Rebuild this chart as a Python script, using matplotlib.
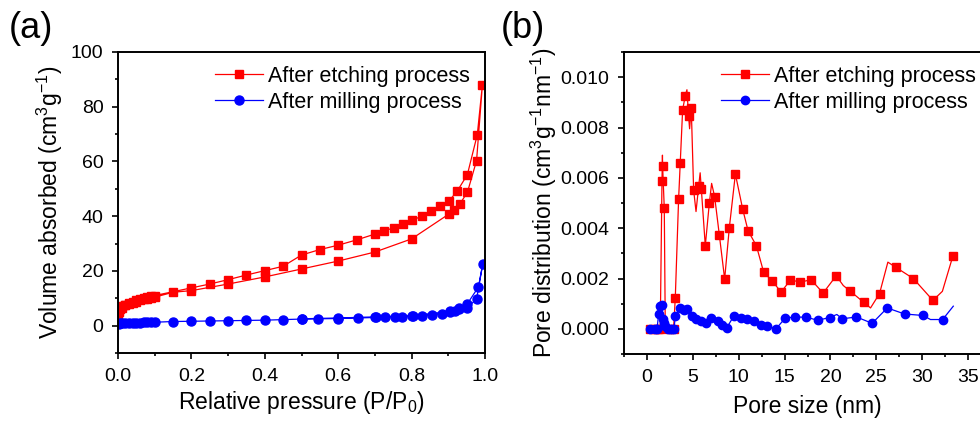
import numpy as np
import matplotlib
matplotlib.use('Agg')
import matplotlib.pyplot as plt
from matplotlib.ticker import MultipleLocator, FormatStrFormatter

plt.rcParams['font.family'] = ['Liberation Sans', 'DejaVu Sans']
plt.rcParams['mathtext.fontset'] = 'custom'
plt.rcParams['mathtext.rm'] = 'Liberation Sans'
plt.rcParams['mathtext.it'] = 'Liberation Sans:italic'

# (a) N2 isotherms, adsorption branch then desorption branch
etch_ads_p = [0.001, 0.003, 0.006, 0.01, 0.02, 0.03, 0.04, 0.05, 0.06, 0.07, 0.08, 0.09, 0.1,
              0.15, 0.2, 0.3, 0.4, 0.5, 0.6, 0.7, 0.8, 0.903, 0.915, 0.932, 0.952, 0.977, 0.993]
etch_ads_v = [3.0, 5.0, 6.0, 6.6, 7.4, 7.9, 8.4, 8.8, 9.2, 9.6, 9.9, 10.2, 10.4,
              12.2, 12.8, 15.2, 17.8, 20.7, 23.6, 26.9, 31.7, 40.9, 42.4, 44.6, 48.7, 60.3, 88.1]
etch_des_p = [0.979, 0.952, 0.925, 0.901, 0.877, 0.853, 0.827, 0.802, 0.777, 0.752, 0.725, 0.701,
              0.652, 0.6, 0.55, 0.5, 0.45, 0.4, 0.35, 0.3, 0.25, 0.2, 0.1, 0.09, 0.08, 0.07,
              0.06, 0.05, 0.04, 0.03, 0.02, 0.01]
etch_des_v = [69.8, 55.2, 49.3, 45.4, 43.6, 41.8, 40.0, 38.5, 37.1, 35.7, 34.7, 33.5,
              31.4, 29.4, 27.8, 25.8, 21.7, 20.1, 18.5, 16.8, 15.2, 13.8, 11.0, 10.7, 10.3, 10.0,
              9.6, 9.2, 8.7, 8.2, 7.7, 7.0]

mill_ads_p = [0.002, 0.005, 0.01, 0.02, 0.03, 0.04, 0.05, 0.06, 0.07, 0.08, 0.09, 0.1, 0.15, 0.2,
              0.25, 0.3, 0.35, 0.4, 0.45, 0.5, 0.545, 0.6, 0.655, 0.704, 0.727, 0.754, 0.775,
              0.803, 0.827, 0.855, 0.882, 0.905, 0.918, 0.93, 0.952, 0.977, 0.994]
mill_ads_v = [0.6, 0.8, 0.9, 1.0, 1.0, 1.05, 1.1, 1.1, 1.15, 1.2, 1.2, 1.25, 1.5, 1.6,
              1.7, 1.8, 1.9, 2.0, 2.2, 2.4, 2.5, 2.6, 2.8, 3.0, 3.1, 3.2, 3.3,
              3.4, 3.7, 3.9, 4.4, 5.0, 5.5, 6.0, 6.6, 9.7, 22.6]
mill_des_p = [0.982, 0.952, 0.93, 0.905, 0.8, 0.7, 0.6, 0.5]
mill_des_v = [14.1, 8.0, 6.3, 5.2, 3.6, 3.2, 2.8, 2.5]

# (b) pore size distribution; line-only points are left out of the marker lists
etch_size = [0.36, 0.9, 1.2, 1.45, 1.64, 1.69, 1.71, 1.89, 2.0, 2.4, 2.9, 3.09, 3.45, 3.63,
             3.89, 4.18, 4.36, 4.54, 4.65, 4.83, 5.09, 5.35, 5.64, 5.8, 5.93, 6.36, 6.8,
             7.05, 7.38, 7.89, 8.47, 8.98, 9.64, 10.44, 11.02, 11.93, 12.73, 13.64, 14.62,
             15.64, 16.73, 17.9, 19.2, 20.63, 21.4, 22.08, 23.64, 24.37, 25.35, 26.26, 27.1,
             29.03, 31.17, 32.2, 33.35]
etch_dist = [0.0, 0.0, 0.0, 0.0, 0.00587, 0.0069, 0.00646, 0.00479, 0.0, 0.0, 0.0, 0.00123,
             0.00514, 0.00659, 0.0087, 0.00927, 0.0095, 0.00844, 0.00795, 0.00878, 0.00551,
             0.00466, 0.00567, 0.0062, 0.00555, 0.0033, 0.00499, 0.00578, 0.00525, 0.00373,
             0.00198, 0.00402, 0.00615, 0.00475, 0.0039, 0.0033, 0.00224, 0.00191, 0.00146,
             0.00194, 0.00186, 0.00195, 0.00142, 0.00211, 0.00172, 0.00152, 0.00105, 0.00083,
             0.0014, 0.00265, 0.00245, 0.002, 0.00113, 0.00149, 0.0029]
etch_marks = [0, 1, 2, 3, 4, 6, 7, 9, 10, 11, 12, 13, 14, 15, 17, 19, 20, 22, 24, 25, 26, 28,
              29, 30, 31, 32, 33, 34, 35, 36, 37, 38, 39, 40, 41, 42, 43, 45, 46, 48, 50, 51,
              52, 54]

mill_size = [0.36, 0.9, 1.1, 1.27, 1.45, 1.62, 1.71, 1.82, 2.0, 2.25, 2.5, 2.7, 2.95, 3.09,
             3.63, 4.0, 4.36, 4.9, 5.4, 5.9, 6.4, 6.96, 7.7, 8.2, 8.7, 9.45, 10.2, 10.9,
             11.65, 12.4, 13.1, 14.08, 15.09, 16.18, 17.39, 18.62, 19.9, 20.7, 21.28, 22.84,
             24.55, 26.19, 28.08, 30.12, 30.9, 32.23, 33.39]
mill_dist = [0.0, 0.0, 0.0, 0.00057, 0.0009, 0.00095, 0.0004, 0.00025, 0.0001, 0.0, 0.0, 0.0,
             0.0, 0.0005, 0.00083, 0.00076, 0.0008, 0.0005, 0.0004, 0.0003, 0.00024, 0.00045,
             0.0003, 0.00017, 0.00004, 0.0005, 0.00045, 0.0004, 0.0003, 0.00017, 0.0001,
             0.00001, 0.00043, 0.00047, 0.00046, 0.00034, 0.00045, 0.00057, 0.0004, 0.00047,
             0.00022, 0.00083, 0.00059, 0.00053, 0.00037, 0.00037, 0.0009]
mill_marks = [i for i in range(len(mill_size)) if i not in (37, 44, 46)]

RED = '#ff0000'
BLUE = '#0000ff'
LABELS = ['After etching process', 'After milling process']

fig = plt.figure(figsize=(9.8, 4.21), dpi=100)
ax1 = fig.add_axes([118/980, 1 - 353/421, 367/980, 301/421])
ax2 = fig.add_axes([624/980, 1 - 354/421, 367/980, 302/421])

ax1.plot(etch_ads_p + etch_des_p, etch_ads_v + etch_des_v, '-s', color=RED,
         lw=0.9, ms=6, label=LABELS[0])
ax1.plot(mill_ads_p + mill_des_p, mill_ads_v + mill_des_v, '-o', color=BLUE,
         lw=0.9, ms=6.5, label=LABELS[1])
ax1.set_xlim(0, 1)
ax1.set_ylim(-10, 100)
ax1.xaxis.set_major_locator(MultipleLocator(0.2))
ax1.xaxis.set_minor_locator(MultipleLocator(0.1))
ax1.xaxis.set_major_formatter(FormatStrFormatter('%.1f'))
ax1.yaxis.set_major_locator(MultipleLocator(20))
ax1.yaxis.set_minor_locator(MultipleLocator(10))
ax1.set_xlabel('Relative pressure (P/P$_0$)', fontsize=16.5, labelpad=3)
ax1.set_ylabel('Volume absorbed (cm$^3$g$^{-1}$)', fontsize=16.5, labelpad=4)

ax2.plot(etch_size, etch_dist, '-s', color=RED, lw=0.9, ms=5.5,
         markevery=etch_marks, label=LABELS[0])
ax2.plot(mill_size, mill_dist, '-o', color=BLUE, lw=0.9, ms=6,
         markevery=mill_marks, label=LABELS[1])
ax2.set_xlim(-2.5, 37.5)
ax2.set_ylim(-0.001, 0.011)
ax2.xaxis.set_major_locator(MultipleLocator(5))
ax2.xaxis.set_minor_locator(MultipleLocator(2.5))
ax2.yaxis.set_major_locator(MultipleLocator(0.002))
ax2.yaxis.set_minor_locator(MultipleLocator(0.001))
ax2.yaxis.set_major_formatter(FormatStrFormatter('%.3f'))
ax2.set_xlabel('Pore size (nm)', fontsize=16.5, labelpad=7)
ax2.set_ylabel('Pore distribution (cm$^3$g$^{-1}$nm$^{-1}$)', fontsize=16.5, labelpad=1)

for ax in (ax1, ax2):
    for s in ax.spines.values():
        s.set_linewidth(1.4)
    ax.tick_params(which='both', direction='out', top=False, right=False,
                   labelsize=14, width=1.2)
    ax.tick_params(which='major', length=4.5, pad=6)
    ax.tick_params(which='minor', length=2.5)
    ax.legend(loc='upper left', bbox_to_anchor=(0.265, 0.955), frameon=False,
              fontsize=15.5, handlelength=2.2, handletextpad=0.25, borderpad=0,
              labelspacing=0.25, borderaxespad=0)

fig.text(9/980, 1 - 11/421, '(a)', fontsize=26, va='top', ha='left')
fig.text(501/980, 1 - 11/421, '(b)', fontsize=26, va='top', ha='left')

fig.savefig('out.png', dpi=100)
